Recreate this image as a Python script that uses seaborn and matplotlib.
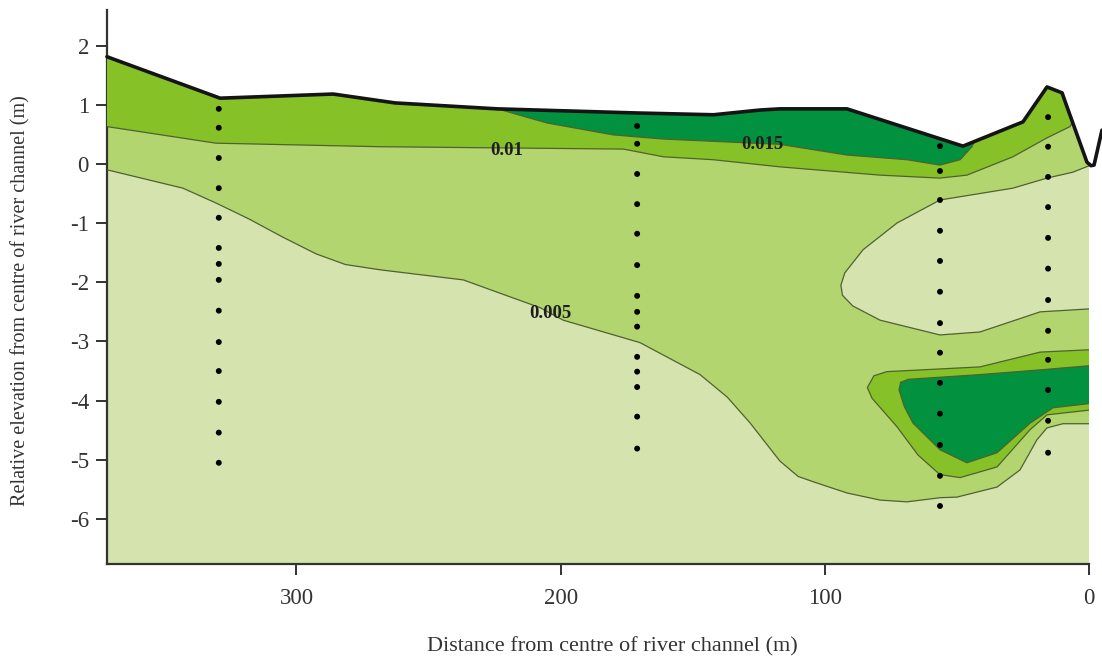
import numpy as np
import pandas as pd
import matplotlib
matplotlib.use("Agg")
import matplotlib.pyplot as plt
from matplotlib.patches import Polygon
import seaborn as sns

# ---------------- data (distance from channel centre, m ; relative elevation, m) -------------
surface_d = [371.7, 328.9, 286.1, 262.7, 224.1, 171.1, 142.2, 124.6, 117.1, 91.7, 47.8, 25.1,
             16.0, 10.3, 8.4, 0.9, -0.6, -1.8, -4.8]
surface_y = [1.81, 1.11, 1.18, 1.03, 0.93, 0.86, 0.83, 0.91, 0.93, 0.93, 0.30, 0.71,
             1.30, 1.20, 0.96, 0.03, -0.03, -0.02, 0.57]

# 0.005 contour (main, left/bottom)
c005a_d = [371.7, 343.0, 330.5, 318.0, 305.5, 292.6, 281.5, 268.3, 236.9, 207.8, 199.1, 170.0,
           147.3, 137.0, 128.3, 117.1, 110.2, 104.5, 91.7, 79.2, 69.0, 56.5, 50.1, 34.9, 26.2,
           19.8, 16.0, 10.0, 0.0]
c005a_y = [-0.10, -0.41, -0.66, -0.93, -1.23, -1.52, -1.70, -1.79, -1.96, -2.43, -2.64, -3.02,
           -3.56, -3.94, -4.38, -5.02, -5.28, -5.37, -5.56, -5.68, -5.71, -5.64, -5.63, -5.46,
           -5.17, -4.66, -4.46, -4.39, -4.39]

# 0.005 contour (low-value bubble near the channel)
c005b_d = [0.0, 6.2, 16.0, 28.9, 56.5, 72.8, 85.6, 92.5, 94.0, 93.4, 89.5, 79.2, 56.5, 41.4, 18.6, 0.0]
c005b_y = [-0.03, -0.14, -0.24, -0.41, -0.61, -1.00, -1.45, -1.84, -2.05, -2.22, -2.40, -2.64,
           -2.89, -2.84, -2.50, -2.45]

# 0.01 contour (upper)
c01a_d = [371.7, 330.5, 268.3, 176.3, 161.2, 142.2, 117.1, 79.2, 56.5, 46.3, 28.9, 16.0, 7.3, 1.6]
c01a_y = [0.63, 0.35, 0.29, 0.25, 0.12, 0.07, -0.05, -0.19, -0.24, -0.19, 0.12, 0.44, 0.63, 1.08]

# 0.01 contour (lower lobe)
c01b_d = [0.0, 18.6, 41.4, 76.6, 81.5, 84.0, 82.2, 72.8, 64.8, 56.5, 48.9, 34.9, 22.4, 16.0, 0.0]
c01b_y = [-3.14, -3.18, -3.43, -3.51, -3.58, -3.78, -3.96, -4.44, -4.92, -5.25, -5.30, -5.12,
          -4.49, -4.24, -4.16]

# 0.015 contour (upper)
c015a_d = [225.5, 205.1, 180.1, 161.2, 117.1, 91.7, 68.9, 56.5, 48.9, 44.4, 43.2]
c015a_y = [0.95, 0.69, 0.49, 0.42, 0.33, 0.15, 0.07, -0.02, 0.07, 0.29, 0.41]

# 0.015 contour (lower lobe)
c015b_d = [0.0, 18.6, 41.4, 68.5, 71.4, 72.0, 70.0, 66.7, 56.5, 46.3, 34.9, 22.4, 13.7, 0.0]
c015b_y = [-3.41, -3.48, -3.56, -3.64, -3.69, -3.82, -4.10, -4.38, -4.83, -5.05, -4.88, -4.38,
           -4.12, -4.05]

# sampling points (boreholes)
bore_cols_d = [329.4, 171.1, 56.5, 15.6]
bore_y = [
    [0.93, 0.61, 0.10, -0.41, -0.91, -1.42, -1.69, -1.96, -2.48, -3.01, -3.50, -4.02, -4.54, -5.05],
    [0.64, 0.34, -0.17, -0.68, -1.18, -1.71, -2.23, -2.50, -2.75, -3.26, -3.51, -3.77, -4.27, -4.81],
    [0.30, -0.12, -0.61, -1.13, -1.64, -2.16, -2.69, -3.19, -3.70, -4.22, -4.75, -5.27, -5.78],
    [0.79, 0.29, -0.22, -0.73, -1.25, -1.77, -2.30, -2.82, -3.31, -3.82, -4.34, -4.88],
]

contour_labels = ["0.01", "0.015", "0.005"]
label_d = [220.3, 123.6, 204.0]
label_y = [0.22, 0.32, -2.52]

x_ticks = [300, 200, 100, 0]
y_ticks = [2, 1, 0, -1, -2, -3, -4, -5, -6]

colors = {"lightest": "#d5e3af", "light": "#b3d570", "medium": "#86c128", "dark": "#02913f"}
line_col = "#4f6130"

# ---------------- figure -------------
sns.set_style("ticks")
plt.rcParams["font.family"] = ["Liberation Serif", "DejaVu Serif"]
plt.rcParams["axes.unicode_minus"] = False

fig = plt.figure(figsize=(11.02, 6.62), dpi=100)
ax = fig.add_axes([107 / 1102, (662 - 564) / 662, (1089.3 - 107) / 1102, (564 - 10) / 662])

XMAX, XMIN = 371.7, 0.0
YMIN, YMAX = -6.76, 2.6
ax.set_xlim(XMAX, XMIN)
ax.set_ylim(YMIN, YMAX)

# domain below the ground surface, used as clip path
sd = np.array(surface_d); sy = np.array(surface_y)
dom_xy = np.column_stack([np.r_[sd, sd[-1], sd[0]], np.r_[sy, YMIN - 1, YMIN - 1]])
domain = Polygon(dom_xy, closed=True, facecolor="none", edgecolor="none", transform=ax.transData)
ax.add_patch(domain)

EXT_R, EXT_L, TOP = XMIN - 10, XMAX + 10, YMAX + 2


def add_fill(xs, ys, color, z):
    patches = ax.fill(xs, ys, color=color, lw=0, zorder=z)
    for p in patches:
        p.set_clip_path(domain)


# base (lightest)
add_fill(np.r_[sd, sd[-1], sd[0]], np.r_[sy, YMIN - 1, YMIN - 1], colors["lightest"], 1)
# light: above main 0.005 contour
add_fill(np.r_[EXT_L, c005a_d, EXT_R, EXT_R, EXT_L], np.r_[c005a_y[0], c005a_y, c005a_y[-1], TOP, TOP],
         colors["light"], 2)
# bubble of low values
add_fill(np.r_[EXT_R, c005b_d, EXT_R], np.r_[c005b_y[0], c005b_y, c005b_y[-1]], colors["lightest"], 3)
# medium upper
add_fill(np.r_[EXT_L, c01a_d, c01a_d[-1], EXT_L], np.r_[c01a_y[0], c01a_y, TOP, TOP], colors["medium"], 4)
# medium lower lobe
add_fill(np.r_[EXT_R, c01b_d, EXT_R], np.r_[c01b_y[0], c01b_y, c01b_y[-1]], colors["medium"], 4)
# dark upper
add_fill(np.r_[c015a_d, c015a_d[-1], c015a_d[0]], np.r_[c015a_y, TOP, TOP], colors["dark"], 5)
# dark lower lobe
add_fill(np.r_[EXT_R, c015b_d, EXT_R], np.r_[c015b_y[0], c015b_y, c015b_y[-1]], colors["dark"], 5)

# contour lines
for xs, ys in [(c005a_d, c005a_y), (c005b_d, c005b_y), (c01a_d, c01a_y),
               (c01b_d, c01b_y), (c015a_d, c015a_y), (c015b_d, c015b_y)]:
    ln, = ax.plot(xs, ys, color=line_col, lw=0.9, zorder=6, solid_joinstyle="round")
    ln.set_clip_path(domain)

# ground surface
surf_df = pd.DataFrame({"d": surface_d, "y": surface_y})
sns.lineplot(data=surf_df, x="d", y="y", sort=False, estimator=None, color="#141414", lw=2.6,
             ax=ax, zorder=7, clip_on=False)

# boreholes
bore_df = pd.DataFrame({"d": np.concatenate([[d] * len(v) for d, v in zip(bore_cols_d, bore_y)]),
                        "y": np.concatenate(bore_y)})
sns.scatterplot(data=bore_df, x="d", y="y", color="black", s=18, edgecolor="none", ax=ax, zorder=8)

for t, xd, yd in zip(contour_labels, label_d, label_y):
    ax.text(xd, yd, t, ha="center", va="center", fontsize=13.5, fontweight="bold", color="#1e1e1e", zorder=9)

ax.set_xlim(XMAX, XMIN)
ax.set_ylim(YMIN, YMAX)
ax.set_xticks(x_ticks)
ax.set_xticklabels([str(v) for v in x_ticks])
ax.set_yticks(y_ticks)
ax.set_yticklabels([str(v) for v in y_ticks])
ax.tick_params(axis="both", length=8, width=1.4, color="#333333", labelcolor="#333333", labelsize=16.5)
ax.tick_params(axis="x", pad=9)
ax.tick_params(axis="y", pad=5)
for s in ["top", "right"]:
    ax.spines[s].set_visible(False)
for s in ["left", "bottom"]:
    ax.spines[s].set_linewidth(1.6)
    ax.spines[s].set_color("#333333")

ax.set_xlabel("Distance from centre of river channel (m)", fontsize=16, color="#333333")
ax.set_ylabel("Relative elevation from centre of river channel (m)", fontsize=14.5, color="#333333")
ax.xaxis.set_label_coords(0.514, -0.132)
ax.yaxis.set_label_coords(-0.078, 0.476)

fig.savefig("out.png", dpi=100)
